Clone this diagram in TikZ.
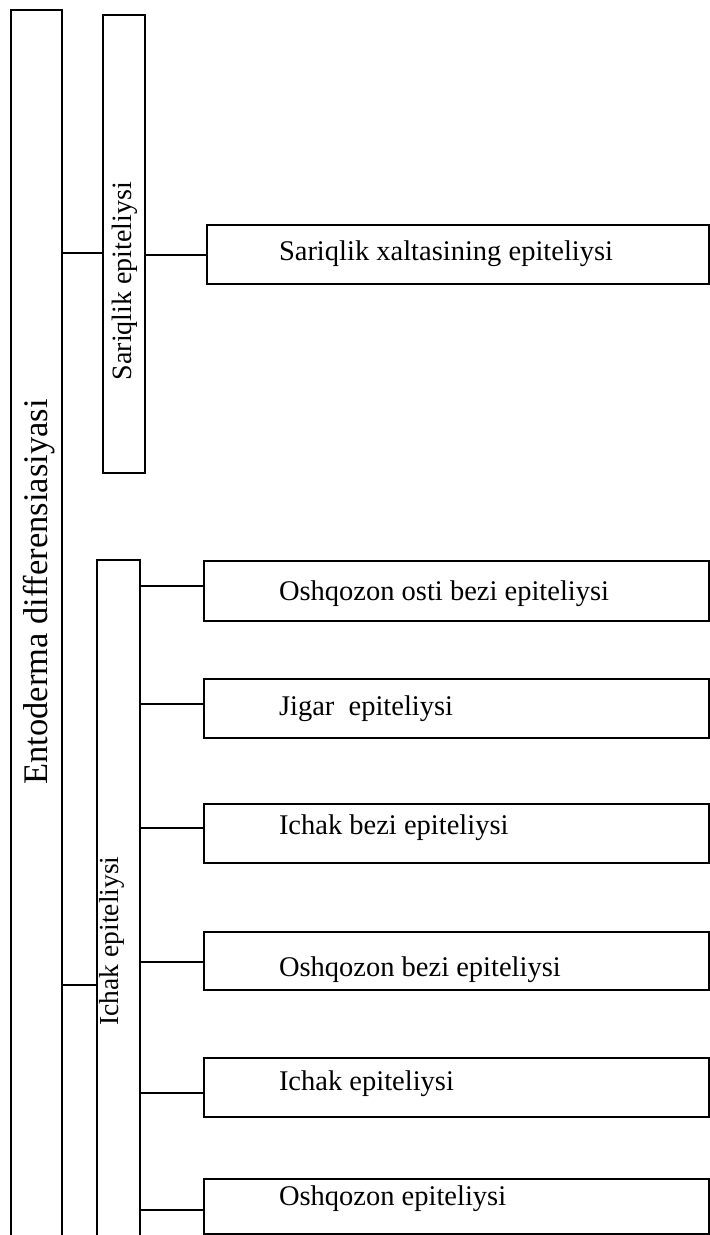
\documentclass[tikz,border=0pt]{standalone}
\usepackage{fontspec}
\setmainfont{Liberation Serif}
\begin{document}
\begin{tikzpicture}[x=1bp,y=-1bp,line width=2bp,
  leaf/.style={draw,inner sep=0,minimum height=#1,anchor=north west},
  leaftext/.style={font=\fontsize{28.5bp}{32bp}\selectfont,anchor=base west,inner sep=0},
  vtext/.style={rotate=90,anchor=base,inner sep=0},
  hold/.style={inner sep=0,anchor=north west}]
\useasboundingbox (0,0) rectangle (710,1235);
% left open frame
\node[hold,minimum width=49bp,minimum height=1226bp] (ento) at (11,10) {};
\draw (ento.south west) -- (ento.north west) -- (ento.north east) -- (ento.south east);
\node[vtext,font=\fontsize{34.5bp}{38bp}\selectfont] (entot) at (47,592) {Entoderma differensiasiyasi};
% Sariqlik epiteliysi
\node[draw,hold,minimum width=42bp,minimum height=458bp] (sar) at (102,14) {};
\node[vtext,font=\fontsize{28bp}{32bp}\selectfont] (sart) at (131,281) {Sariqlik epiteliysi};
% Ichak epiteliysi open box
\node[hold,minimum width=41bp,minimum height=676bp] (ich) at (97,560) {};
\draw (ich.south west) -- (ich.north west) -- (ich.north east) -- (ich.south east);
\node[vtext,font=\fontsize{27.5bp}{32bp}\selectfont] (icht) at (118,941) {Ichak epiteliysi};
% leaf boxes
\node[leaf=59bp,minimum width=502bp] (L0) at (206,224) {};
\node[leaf=60bp,minimum width=505bp] (L1) at (203,560) {};
\node[leaf=59bp,minimum width=505bp] (L2) at (203,678) {};
\node[leaf=59bp,minimum width=505bp] (L3) at (203,803) {};
\node[leaf=58bp,minimum width=505bp] (L4) at (203,931) {};
\node[leaf=59bp,minimum width=505bp] (L5) at (203,1057) {};
\node[leaf=55bp,minimum width=505bp] (L6) at (203,1178) {};
\node[leaftext] (T0) at (278,260) {Sariqlik xaltasining epiteliysi};
\node[leaftext] (T1) at (278,600) {Oshqozon osti bezi epiteliysi};
\node[leaftext] (T2) at (278,715) {Jigar\ \ epiteliysi};
\node[leaftext] (T3) at (278,834) {Ichak bezi epiteliysi};
\node[leaftext] (T4) at (278,976) {Oshqozon bezi epiteliysi};
\node[leaftext] (T5) at (278,1090) {Ichak epiteliysi};
\node[leaftext] (T6) at (278,1205) {Oshqozon epiteliysi};
% connectors
\coordinate (c0) at (0,253);
\draw (ento.east |- c0) -- (sar.west |- c0);
\draw (sar.east |- L0.west) -- (L0.west);
\coordinate (c1) at (0,985);
\draw (ento.east |- c1) -- (ich.west |- c1);
\foreach \i/\yy in {1/586,2/704,3/828,4/962,5/1093,6/1210}{
  \coordinate (k\i) at (0,\yy);
  \draw (ich.east |- k\i) -- (L\i.west |- k\i);
}
\end{tikzpicture}
\end{document}
